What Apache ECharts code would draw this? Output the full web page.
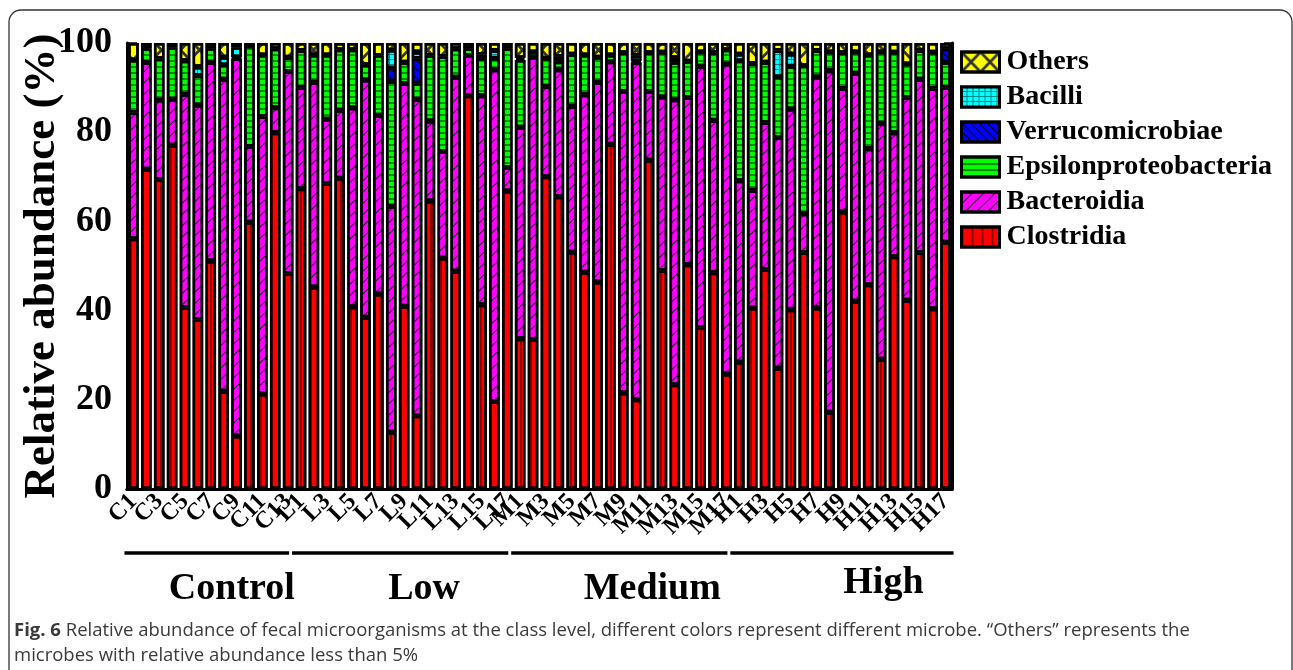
<!DOCTYPE html>
<html>
<head>
<meta charset="utf-8">
<script src="https://cdn.jsdelivr.net/npm/echarts@6/dist/echarts.min.js"></script>
<style>
  html, body { margin: 0; padding: 0; background: #fff; }
  #chart { width: 1293px; height: 670px; }
</style>
</head>
<body>
<div id="chart"></div>
<script>
// samples, 4 dose groups
const categories = [
  "C1","C2","C3","C4","C5","C6","C7","C8","C9","C10","C11","C12","C13",
  "L1","L2","L3","L4","L5","L6","L7","L8","L9","L10","L11","L12","L13","L14","L15","L16","L17",
  "M1","M2","M3","M4","M5","M6","M7","M8","M9","M10","M11","M12","M13","M14","M15","M16","M17",
  "H1","H2","H3","H4","H5","H6","H7","H8","H9","H10","H11","H12","H13","H14","H15","H16","H17"
];
const groups = ["Control", "Low", "Medium", "High"];
const groupFirst = ["C1", "L1", "M1", "H1"];
const groupLast = ["C13", "L17", "M17", "H17"];
const yTicks = [0, 20, 40, 60, 80, 100];

// relative abundance (%), bottom to top
const clostridia = [
  56.1,71.7,69.4,77.1,40.7,38.0,51.1,21.9,11.9,59.8,21.3,79.9,48.3,
  67.3,45.3,68.5,69.7,40.8,38.5,43.7,12.7,41.0,16.4,64.6,51.8,48.8,88.2,41.3,19.6,66.8,
  33.7,33.5,70.0,65.5,53.1,48.6,46.4,77.3,21.5,20.0,73.7,49.0,23.4,50.3,36.2,48.5,25.8,
  28.4,40.6,49.2,27.1,40.2,53.0,40.6,17.2,62.1,42.1,45.8,29.1,52.1,42.3,53.0,40.4,55.3
];
const bacteroidia = [
  28.3,24.0,17.8,10.3,47.8,48.1,44.6,70.0,84.6,17.0,62.2,5.6,45.3,
  22.7,45.9,14.4,15.2,44.7,53.2,40.1,50.7,49.9,71.0,17.9,23.9,43.5,9.0,46.9,74.4,5.3,
  47.4,63.3,20.3,28.5,32.7,39.8,44.8,18.5,67.6,75.7,15.4,38.9,63.9,37.5,58.6,34.2,69.5,
  40.7,26.4,33.0,51.7,45.0,8.7,51.8,76.6,27.7,51.1,30.5,52.9,27.8,45.5,38.9,49.4,34.7
];
const epsilon = [
  11.8,3.1,9.3,11.6,7.5,6.6,3.1,3.2,0.3,22.5,13.8,13.2,3.2,
  8.3,6.1,14.4,13.6,13.0,3.4,13.4,28.0,4.8,3.6,14.7,21.3,6.4,1.6,8.4,2.6,26.7,
  15.1,1.2,6.3,1.8,11.7,8.9,5.6,1.5,8.7,0.3,8.7,10.0,8.4,8.1,3.2,15.1,3.2,
  26.9,28.4,13.5,13.6,9.6,33.2,5.9,4.2,8.0,4.8,21.0,16.0,18.0,7.5,6.4,8.1,5.7
];
const verruco = [
  0,0,0,0,0,0,0,0,0,0,0,0,0,
  0,0,0,0,0,0,0,3.0,0,5.5,0,0,0,0,0,0,0,
  0,0,0,0,0,0,0,0,0,0,0,0,0,0,0,0,0,
  0,0,0,0,0,0,0,0,0,0,0,0,0,0,0,0,3.0
];
const bacilli = [
  0,0,0,0,0,2.0,0,1.7,2.2,0,0,0,0,
  0,0,0,0,0,0,0,4.0,0,1.5,0,0,0,0,0.8,1.7,0,
  0.5,0,0,1.2,0,0,0,0,0,1.2,0,0,1.0,0,0,0,0,
  1.5,0,0,5.9,2.7,0,0,0,0,0,0,0,0,0,0,0,0
];
const others = [
  3.8,1.2,3.5,1.0,4.0,5.3,1.2,3.2,1.0,0.7,2.7,1.3,3.2,
  1.7,2.7,2.7,1.5,1.5,4.9,2.8,1.6,4.3,2.0,2.8,3.0,1.3,1.2,2.6,1.7,1.2,
  3.3,2.0,3.4,3.0,2.5,2.7,3.2,2.7,2.2,2.8,2.2,2.1,3.3,4.1,2.0,2.2,1.5,
  2.5,4.6,4.3,1.7,2.5,5.1,1.7,2.0,2.2,2.0,2.7,2.0,2.1,4.7,1.7,2.1,1.3
];

const serif = "'Liberation Serif', 'Times New Roman', serif";
const sans = "'Open Sans', 'Noto Sans', sans-serif";

const seriesDefs = [
  { name: "Clostridia", data: clostridia, color: "#ff0000",
    decal: { symbol: "rect", color: "#8b0000", dashArrayX: [1.5, 7.5], dashArrayY: [5, 0] } },
  { name: "Bacteroidia", data: bacteroidia, color: "#ff00ff",
    decal: { symbol: "rect", color: "#222", dashArrayX: [5, 0], dashArrayY: [1, 7], rotation: -Math.PI / 4 } },
  { name: "Epsilonproteobacteria", data: epsilon, color: "#00ff00",
    decal: { symbol: "rect", color: "#008a00", dashArrayX: [5, 0], dashArrayY: [1.2, 3.4] } },
  { name: "Verrucomicrobiae", data: verruco, color: "#0000ff",
    decal: { symbol: "rect", color: "#000", dashArrayX: [5, 0], dashArrayY: [1, 5], rotation: Math.PI / 4 } },
  { name: "Bacilli", data: bacilli, color: "#008b8b",
    decal: { symbol: "rect", color: "#00ffff", dashArrayX: [5, 1], dashArrayY: [4, 1] } },
  { name: "Others", data: others, color: "#ffff00",
    decal: { symbol: "path://M0 0L2 0L20 18L20 20L18 20L0 2Z M18 0L20 0L20 2L2 20L0 20L0 18Z",
      symbolKeepAspect: false, color: "#333", dashArrayX: [19, 0], dashArrayY: [20, 0] } }
];

const chart = echarts.init(document.getElementById("chart"));

const option = {
  backgroundColor: "#fff",
  animation: false,
  grid: { left: 127, right: 341, top: 43, bottom: 181 },
  legend: {
    orient: "vertical",
    left: 955,
    top: 43,
    icon: "rect",
    itemWidth: 38,
    itemHeight: 20,
    itemGap: 7,
    data: ["Others", "Bacilli", "Verrucomicrobiae", "Epsilonproteobacteria", "Bacteroidia", "Clostridia"],
    itemStyle: { borderColor: "#000", borderWidth: 3 },
    textStyle: { fontFamily: serif, fontWeight: "bold", fontSize: 28, color: "#000", padding: [0, 0, 0, 2] }
  },
  xAxis: [
    {
      type: "category",
      data: categories,
      axisLine: { lineStyle: { color: "#000", width: 3 } },
      axisTick: { alignWithLabel: true, interval: 0, length: 9, lineStyle: { color: "#000", width: 2.5 } },
      axisLabel: {
        interval: 0,
        formatter: function (value) { return +value.slice(1) % 2 === 1 ? value : ""; },
        hideOverlap: false,
        rotate: 45,
        margin: 9,
        fontFamily: serif,
        fontWeight: "bold",
        fontSize: 24,
        color: "#000"
      }
    },
    {
      type: "category",
      position: "top",
      data: categories,
      axisLine: { lineStyle: { color: "#000", width: 3 } },
      axisTick: { show: false },
      axisLabel: { show: false }
    }
  ],
  yAxis: [
    {
      type: "value",
      min: yTicks[0],
      max: yTicks[yTicks.length - 1],
      interval: 20,
      name: "Relative abundance (%)",
      nameLocation: "middle",
      nameGap: 62,
      nameMoveOverlap: false,
      nameTextStyle: { fontFamily: serif, fontWeight: "bold", fontSize: 45, color: "#000" },
      axisLine: { show: true, lineStyle: { color: "#000", width: 3 } },
      axisTick: { show: true, inside: true, length: 10, lineStyle: { color: "#000", width: 2.5 } },
      minorTick: { show: true, splitNumber: 2, length: 4, lineStyle: { color: "#000", width: 2.5 } },
      splitLine: { show: false },
      axisLabel: { margin: 15, fontFamily: serif, fontWeight: "bold", fontSize: 36, color: "#000" }
    },
    {
      type: "value",
      position: "right",
      min: 0,
      max: 100,
      interval: 20,
      axisLine: { show: true, lineStyle: { color: "#000", width: 3 } },
      axisTick: { show: true, inside: true, length: 8, lineStyle: { color: "#000", width: 2.5 } },
      minorTick: { show: true, splitNumber: 2, length: 4, lineStyle: { color: "#000", width: 2.5 } },
      splitLine: { show: false },
      axisLabel: { show: false }
    }
  ],
  series: seriesDefs.map(function (s) {
    return {
      name: s.name,
      type: "bar",
      stack: "total",
      barCategoryGap: "18%",
      data: s.data.map(function (v) { return v > 0 ? v : null; }),
      itemStyle: { color: s.color, borderColor: "#000", borderWidth: 2.5, decal: s.decal }
    };
  })
};

chart.setOption(option);

// group brackets under the tick labels
const shifts = [21, 20, 29, 41];
const groupGraphics = [];
groups.forEach(function (g, i) {
  const x0 = chart.convertToPixel({ xAxisIndex: 0 }, groupFirst[i]);
  const x1 = chart.convertToPixel({ xAxisIndex: 0 }, groupLast[i]);
  groupGraphics.push({
    type: "line",
    shape: { x1: x0 - 9, y1: 553, x2: i === 3 ? x1 + 8 : x1 + 1, y2: 553 },
    style: { stroke: "#000", lineWidth: 3.5 }
  });
  groupGraphics.push({
    type: "text",
    x: (x0 + x1) / 2 + shifts[i],
    y: i === 3 ? 583 : 589,
    style: {
      text: g, fontFamily: serif, fontWeight: "bold", fontSize: 38,
      fill: "#000", align: "center", verticalAlign: "middle"
    }
  });
});

chart.setOption({
  graphic: groupGraphics.concat([
    {
      type: "rect",
      shape: { x: 9, y: 10, width: 1283, height: 700, r: 12 },
      style: { fill: null, stroke: "#333", lineWidth: 1.3 }
    },
    {
      type: "text",
      x: 14,
      y: 618,
      style: {
        text: "{b|Fig. 6} Relative abundance of fecal microorganisms at the class level, different colors represent different microbe. \u201cOthers\u201d represents the\nmicrobes with relative abundance less than 5%",
        fontFamily: sans,
        fontSize: 18.5,
        lineHeight: 25,
        fill: "#3a3a3a",
        rich: { b: { fontWeight: "bold", fontFamily: sans, fontSize: 18.5, fill: "#3a3a3a" } }
      }
    }
  ])
});
</script>
</body>
</html>
